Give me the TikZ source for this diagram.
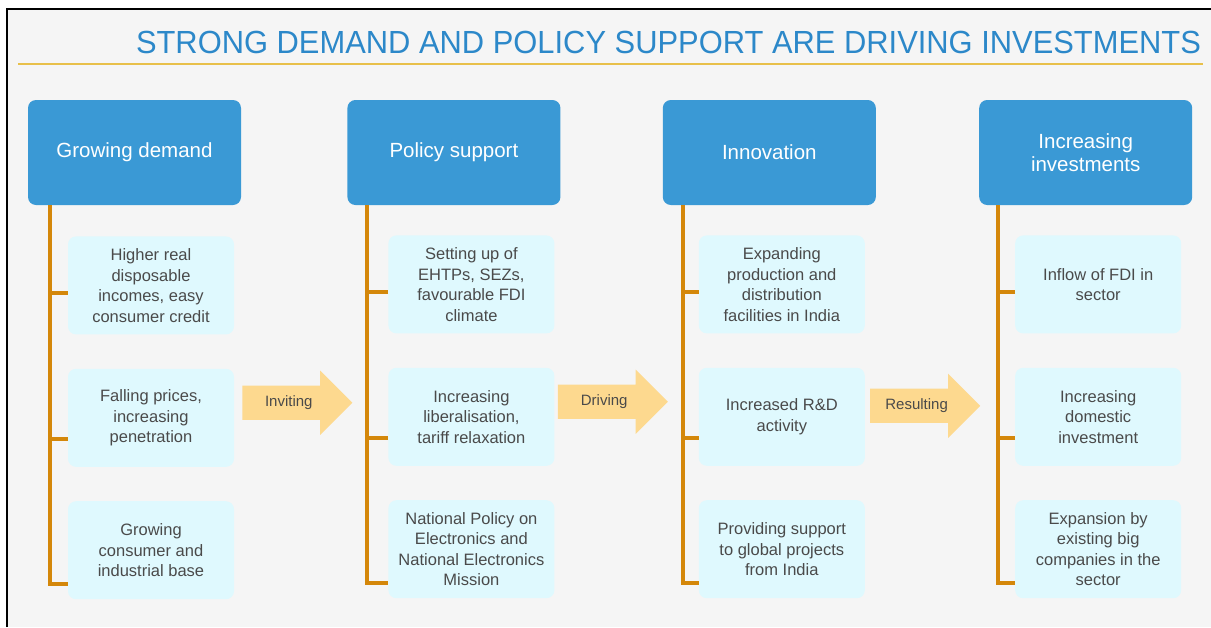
\documentclass[tikz,border=0pt]{standalone}
\usepackage{fontspec}
\setmainfont{Liberation Sans}
\usetikzlibrary{positioning,shapes.arrows}

\definecolor{pagegray}{HTML}{F5F5F5}
\definecolor{titleblue}{HTML}{2C88C9}
\definecolor{rulegold}{HTML}{E8C04A}
\definecolor{headblue}{HTML}{3A99D5}
\definecolor{itemcyan}{HTML}{DFF9FE}
\definecolor{itemgray}{HTML}{4A4A4A}
\definecolor{stemorange}{HTML}{D4870A}
\definecolor{pushpeach}{HTML}{FDD98F}

\begin{document}
\begin{tikzpicture}[x=1pt, y=-1pt, node distance={105pt},
    head/.style={fill=headblue, rounded corners=8pt, minimum width=213pt, minimum height=105pt,
      text=white, align=center, font=\fontsize{20.5}{23.5}\selectfont},
    item/.style={fill=itemcyan, rounded corners=8pt, minimum width=166pt, minimum height=98pt,
      text=itemgray, align=center, font=\fontsize{16.5}{20.5}\selectfont},
    stem/.style={draw=stemorange, line width=4pt},
    push/.style={single arrow, fill=pushpeach, single arrow head extend=15pt,
      minimum height=110pt, inner ysep=10pt, text=itemgray, font=\fontsize{15}{18}\selectfont}]

		% page and frame
		\useasboundingbox (0,0) rectangle (1211,627);
		\fill[white] (0,0) rectangle (1211,627);
		\fill[pagegray] (7,9) rectangle (1211,627);
		\draw[line width=2.5pt] (7,627) -- (7,9) -- (1211,9);

		\node[text=titleblue, font=\fontsize{32}{36}\selectfont\addfontfeatures{FakeStretch=0.965}] (title) at (668.5,42) {STRONG DEMAND AND POLICY SUPPORT ARE DRIVING INVESTMENTS};
		\draw[rulegold, line width=2pt] (18,64) -- (1203,64);

		% column heads
		\node[head] (h1) at (134.5,152.5) {Growing demand};
		\node[head] (h2) [right = 106pt of h1] {Policy support};
		\node[head] (h3) [right = 102pt of h2] {Innovation};
		\node[head] (h4) [right = 103pt of h3] {Increasing\\investments};

		% items
		\node[item] (s11) [below right = 31pt and 40pt of h1.south west] {Higher real\\disposable\\incomes, easy\\consumer credit};
		\node[item] (s12) [below = 34pt of s11] {Falling prices,\\increasing\\penetration};
		\node[item] (s13) [below = 34pt of s12] {Growing\\consumer and\\industrial base};

		\node[item] (s21) [below right = 30pt and 41pt of h2.south west] {Setting up of\\EHTPs, SEZs,\\favourable FDI\\climate};
		\node[item] (s22) [below = 34pt of s21] {Increasing\\liberalisation,\\tariff relaxation};
		\node[item] (s23) [below = 34pt of s22] {National Policy on\\Electronics and\\National Electronics\\Mission};

		\node[item] (s31) [below right = 30pt and 36pt of h3.south west] {Expanding\\production and\\distribution\\facilities in India};
		\node[item] (s32) [below = 34pt of s31] {Increased R\&D\\activity};
		\node[item] (s33) [below = 34pt of s32] {Providing support\\to global projects\\from India};

		\node[item] (s41) [below right = 30pt and 36pt of h4.south west] {Inflow of FDI in\\sector};
		\node[item] (s42) [below = 34pt of s41] {Increasing\\domestic\\investment};
		\node[item] (s43) [below = 34pt of s42] {Expansion by\\existing big\\companies in the\\sector};

		% stems
		\draw[stem] ([xshift=22pt]h1.south west) |- ([yshift=-34pt]s13.west);
		\draw[stem] ([yshift=-8pt]s11.west) -- +(-18,0);
		\draw[stem] ([yshift=-21pt]s12.west) -- +(-18,0);

		\draw[stem] ([xshift=20pt]h2.south west) |- ([yshift=-34pt]s23.west);
		\draw[stem] ([yshift=-8pt]s21.west) -- +(-21,0);
		\draw[stem] ([yshift=-21pt]s22.west) -- +(-21,0);

		\draw[stem] ([xshift=20pt]h3.south west) |- ([yshift=-34pt]s33.west);
		\draw[stem] ([yshift=-8pt]s31.west) -- +(-16,0);
		\draw[stem] ([yshift=-21pt]s32.west) -- +(-16,0);

		\draw[stem] ([xshift=19pt]h4.south west) |- ([yshift=-34pt]s43.west);
		\draw[stem] ([yshift=-8pt]s41.west) -- +(-17,0);
		\draw[stem] ([yshift=-21pt]s42.west) -- +(-17,0);

		% arrows between columns
		\node[push, right = 8pt of s12, yshift=15pt] (a1) {Inviting};
		\node[push, right = 3pt of s22, yshift=15pt] (a2) {Driving};
		\node[push, right = 5pt of s32, yshift=11pt] (a3) {Resulting};
	\end{tikzpicture}
\end{document}
